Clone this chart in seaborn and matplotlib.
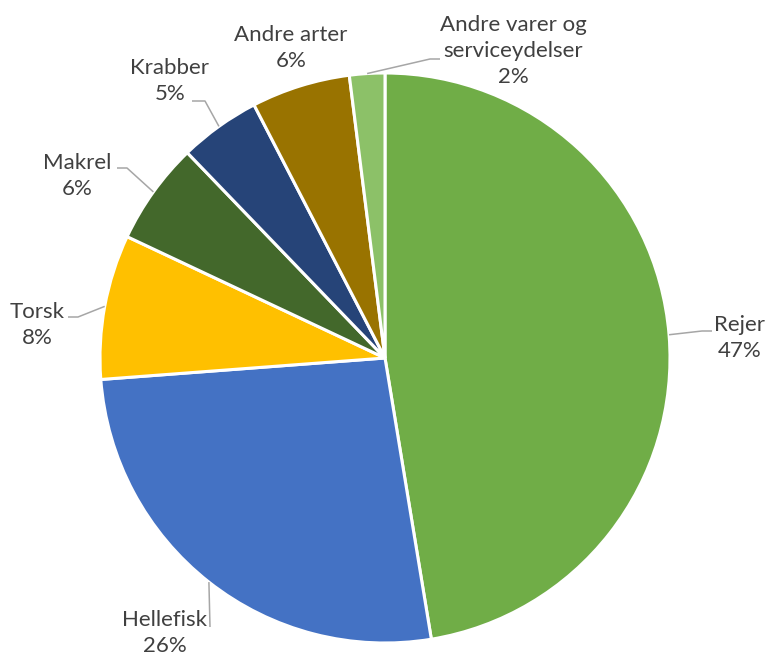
import matplotlib
matplotlib.use("Agg")
import matplotlib.pyplot as plt
import seaborn as sns
import numpy as np

# ---- data ----
categories = ["Rejer", "Hellefisk", "Torsk", "Makrel", "Krabber", "Andre arter",
              "Andre varer og\nserviceydelser"]
shares = [47.4, 26.4, 8.2, 5.8, 4.6, 5.6, 2.0]
colors = ["#70AD47", "#4472C4", "#FFC000", "#43682B", "#264478", "#997300", "#8CC168"]

# ---- layout (pixel coordinates, y from top) ----
W, H = 768, 657
label_pos = [(740, 338), (165, 633), (37, 325), (77, 176), (170, 81), (291, 48), (513, 51)]
# leader: (elbow_x, elbow_y, end_x) or None
leaders = [(702, 331, 712), (210, 627, 210), (78, 317, 68), (127, 168, 117),
           (205, 101, 192), None, (430, 59, 440)]

sns.set_theme(style="white")
plt.rcParams['font.family'] = ['Lato', 'DejaVu Sans']

fig = plt.figure(figsize=(W / 100, H / 100), dpi=100)
ax = fig.add_axes([0, 0, 1, 1])

cx, cy, R = 385, H - 358, 285
wedges, _ = ax.pie(shares, colors=colors, startangle=90, counterclock=False,
                   center=(cx, cy), radius=R,
                   wedgeprops=dict(edgecolor="white", linewidth=2.2))
ax.set_xlim(0, W)
ax.set_ylim(0, H)
ax.set_aspect("equal")
ax.axis("off")

total = sum(shares)
for w, cat, v, (lx, ly), ld in zip(wedges, categories, shares, label_pos, leaders):
    pct = v / total * 100
    ax.text(lx, H - ly, f"{cat}\n{pct:.0f}%", ha="center", va="center",
            fontsize=16, color="#404040", linespacing=1.35)
    if ld is not None:
        th = np.deg2rad((w.theta1 + w.theta2) / 2)
        sx, sy = cx + R * np.cos(th), cy + R * np.sin(th)
        ex, ey, tx = ld
        ax.plot([sx, ex, tx], [sy, H - ey, H - ey], color="#A6A6A6", lw=1.1,
                solid_capstyle="butt")

fig.savefig("out.png", dpi=100, facecolor="white")
